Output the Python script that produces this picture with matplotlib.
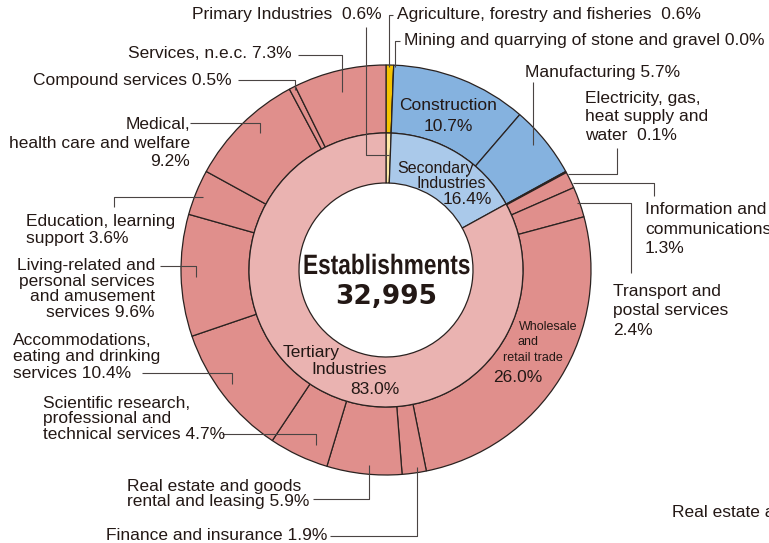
import matplotlib.pyplot as plt
import matplotlib.patheffects as pe
from matplotlib.textpath import TextPath
from matplotlib.patches import PathPatch
from matplotlib.font_manager import FontProperties
from matplotlib.transforms import Affine2D

# Data ===
sector_names = ["Primary Industries", "Secondary Industries", "Tertiary Industries"]
sector_share = [0.6, 16.4, 83.0]

industry_names = [
    "Agriculture, forestry and fisheries", "Mining and quarrying of stone and gravel",
    "Construction", "Manufacturing", "Electricity, gas, heat supply and water",
    "Information and communications", "Transport and postal services",
    "Wholesale and retail trade", "Finance and insurance",
    "Real estate and goods rental and leasing",
    "Scientific research, professional and technical services",
    "Accommodations, eating and drinking services",
    "Living-related and personal services and amusement services",
    "Education, learning support", "Medical, health care and welfare",
    "Compound services", "Services, n.e.c.",
]
industry_share = [0.6, 0.0, 10.7, 5.7, 0.1, 1.3, 2.4, 26.0, 1.9, 5.9, 4.7,
                  10.4, 9.6, 3.6, 9.2, 0.5, 7.3]
industry_sector = [0, 0, 1, 1, 1, 2, 2, 2, 2, 2, 2, 2, 2, 2, 2, 2, 2]
total_establishments = 32995

# Colours ===
outer_cols = ["#f5c300", "#85b2df", "#e08f8c"]
inner_cols = ["#fde9a6", "#aac9ea", "#eab3b1"]
edge = "#2a2220"
ink = "#231815"
lead = "#4a4443"

plt.rcParams['font.family'] = ['Liberation Sans', 'DejaVu Sans']
fig = plt.figure(figsize=(7.69, 5.43), dpi=100)
ax = fig.add_axes([0, 0, 1, 1])

cx, cy = 386, 270
# y axis runs downward (pixel layout), so counterclock=True turns clockwise on screen
ax.pie(industry_share, radius=205, center=(cx, cy), startangle=-90, counterclock=True,
       colors=[outer_cols[s] for s in industry_sector],
       wedgeprops=dict(width=68, edgecolor=edge, linewidth=0.9))
ax.pie(sector_share, radius=137, center=(cx, cy), startangle=-90, counterclock=True,
       colors=inner_cols,
       wedgeprops=dict(width=50, edgecolor=edge, linewidth=0.9))
ax.set_xlim(0, 769)
ax.set_ylim(543, 0)
ax.set_aspect("equal")
ax.axis("off")

fs = 12.5


def pct(v):
    return f"{v:.1f}%"


sh = industry_share
# label texts (x, y, text, ha, linespacing)
labels = [
    (382, 15, f"Primary Industries  {pct(sector_share[0])}", "right", 1.0),
    (397, 15, f"Agriculture, forestry and fisheries  {pct(sh[0])}", "left", 1.0),
    (404, 40, f"Mining and quarrying of stone and gravel {pct(sh[1])}", "left", 1.0),
    (525, 72, f"Manufacturing {pct(sh[3])}", "left", 1.0),
    (585, 117, f"Electricity, gas,\nheat supply and\nwater  {pct(sh[4])}", "left", 1.33),
    (645, 229, f"Information and\ncommunications\n{pct(sh[5])}", "left", 1.4),
    (613, 311, f"Transport and\npostal services\n{pct(sh[6])}", "left", 1.4),
    (327, 536, f"Finance and insurance {pct(sh[8])}", "right", 1.0),
    (127, 494, f"Real estate and goods\nrental and leasing {pct(sh[9])}", "left", 1.07),
    (43, 419, f"Scientific research,\nprofessional and\ntechnical services {pct(sh[10])}", "left", 1.07),
    (13, 357, f"Accommodations,\neating and drinking\nservices {pct(sh[11])}", "left", 1.13),
    (155, 289, f"Living-related and\npersonal services\nand amusement\nservices {pct(sh[12])}", "right", 1.07),
    (26, 230, f"Education, learning\nsupport {pct(sh[13])}", "left", 1.13),
    (190, 143, f"Medical,\nhealth care and welfare\n{pct(sh[14])}", "right", 1.33),
    (232, 80, f"Compound services {pct(sh[15])}", "right", 1.0),
    (292, 54, f"Services, n.e.c. {pct(sh[16])}", "right", 1.0),
]
for x, y, t, ha, ls in labels:
    ax.text(x, y, t, ha=ha, va="center", fontsize=fs, color=ink,
            linespacing=ls, multialignment=ha)

# leader lines
leaders = [
    [(366, 27), (366, 155), (389, 155)],
    [(393, 15), (389, 15), (389, 67)],
    [(400, 41), (395, 41), (395, 67)],
    [(533, 82), (533, 145)],
    [(617, 148), (617, 174), (568, 174)],
    [(573, 183), (654, 183), (654, 196)],
    [(577, 203), (631, 203), (631, 273)],
    [(330, 536), (417, 536), (417, 467)],
    [(313, 499), (369, 499), (369, 465)],
    [(222, 434), (316, 434), (316, 445)],
    [(142, 373), (232, 373), (232, 384)],
    [(160, 266), (196, 266), (196, 277)],
    [(114, 207), (114, 197), (203, 197)],
    [(190, 123), (260, 123), (260, 133)],
    [(238, 80), (295, 80), (295, 90)],
    [(298, 55), (342, 55), (342, 92)],
]
for path in leaders:
    xs, ys = zip(*path)
    ax.plot(xs, ys, color=lead, lw=0.8, solid_capstyle="butt")

# labels inside the rings
ax.text(448, 116, f"Construction\n{pct(sh[2])}", ha="center", va="center",
        fontsize=fs, color=ink, linespacing=1.47)
ax.text(397, 168, "Secondary", ha="left", va="center", fontsize=11.5, color=ink)
ax.text(416, 184, "Industries", ha="left", va="center", fontsize=11.5, color=ink)
ax.text(443, 200, pct(sector_share[1]), ha="left", va="center", fontsize=fs, color=ink)
ax.text(283, 352, "Tertiary", ha="left", va="center", fontsize=fs, color=ink)
ax.text(311, 370, "Industries", ha="left", va="center", fontsize=fs, color=ink)
ax.text(350, 389, pct(sector_share[2]), ha="left", va="center", fontsize=fs, color=ink)
ax.text(519, 327, "Wholesale", ha="left", va="center", fontsize=9, color=ink)
ax.text(517, 342, "and", ha="left", va="center", fontsize=9, color=ink)
ax.text(503, 358, "retail trade", ha="left", va="center", fontsize=9, color=ink)
ax.text(493, 377, pct(sh[7]), ha="left", va="center", fontsize=fs, color=ink)

# centre title, horizontally condensed like the original
fp = FontProperties(family="Liberation Sans", weight="bold")
tp = TextPath((0, 0), "Establishments", size=28, prop=fp)
bb = tp.get_extents()
sx = 165 / bb.width
tr = Affine2D().translate(-(bb.x0 + bb.width / 2), 0).scale(sx, -1).translate(387, 274)
ax.add_patch(PathPatch(tr.transform_path(tp), facecolor=ink, edgecolor="none",
                       path_effects=[pe.withStroke(linewidth=3, foreground="white")]))
ax.text(386, 297, f"{total_establishments:,}", ha="center", va="center", fontsize=19,
        fontweight="bold", color=ink, family="DejaVu Sans")

# neighbouring chart text cut off at the right edge
ax.text(672, 512, "Real estate and goods", ha="left", va="center", fontsize=fs,
        color=ink, clip_on=True)

fig.savefig("out.png", dpi=100, facecolor="white")
